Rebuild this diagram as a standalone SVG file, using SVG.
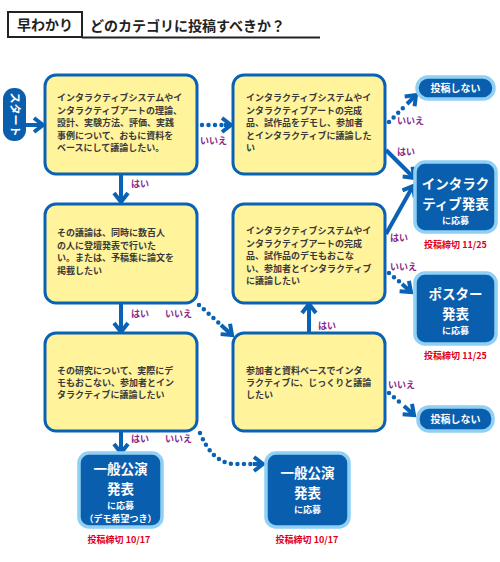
<svg xmlns="http://www.w3.org/2000/svg" width="500" height="562" viewBox="0 0 500 562">
<defs>
<style>
text{font-family:"Noto Sans CJK JP","Noto Sans",sans-serif;font-weight:bold}
.q{fill:#fff39c;stroke:#0a62b4;stroke-width:3}
.qt{font-size:9px;fill:#3a3a3a}
.r{fill:#0a5eae;stroke:#8fd0f3;stroke-width:3.5}
.rt{fill:#fff;text-anchor:middle}
.big{font-size:13.5px}
.sm{font-size:9px}
.dl{font-size:9px;fill:#e0001b;text-anchor:middle}
.lb{font-size:9px;fill:#8a2a8c}
.ln{fill:none;stroke:#0a62b4;stroke-width:4}
.dot{fill:none;stroke:#0a62b4;stroke-width:4.5;stroke-linecap:round;stroke-dasharray:0 6.5}
</style>
<marker id="ah" markerUnits="userSpaceOnUse" markerWidth="18" markerHeight="18" viewBox="0 0 18 18" refX="12" refY="9" orient="auto">
<path d="M3,2 L12,9 L3,16" fill="none" stroke="#0a62b4" stroke-width="4" stroke-linejoin="miter"/>
</marker>
</defs>
<rect width="500" height="562" fill="#fff"/>
<g id="title">
<rect x="8" y="12" width="74" height="25" fill="#fff" stroke="#222" stroke-width="2"/>
<text x="45" y="30" font-size="14" text-anchor="middle" fill="#222">早わかり</text>
<text x="90" y="31" font-size="14" fill="#222">どのカテゴリに投稿すべきか？</text>
<line x1="82" y1="37.5" x2="320" y2="37.5" stroke="#222" stroke-width="2"/>
</g>
<g id="connectors">
<line class="ln" x1="26" y1="125" x2="43" y2="125" marker-end="url(#ah)"/>
<line class="dot" x1="202" y1="125" x2="224" y2="125"/>
<line class="ln" x1="224" y1="125" x2="231" y2="125" marker-end="url(#ah)"/>
<line class="ln" x1="121" y1="175" x2="121" y2="202" marker-end="url(#ah)"/>
<line class="dot" x1="389" y1="122" x2="406" y2="105"/>
<line class="ln" x1="407" y1="104" x2="416" y2="95" marker-end="url(#ah)"/>
<line class="ln" x1="386" y1="150" x2="414" y2="178" marker-end="url(#ah)"/>
<line class="ln" x1="386" y1="234" x2="413" y2="186" marker-end="url(#ah)"/>
<line class="dot" x1="389" y1="273" x2="401" y2="283"/>
<line class="ln" x1="402" y1="284" x2="411" y2="292" marker-end="url(#ah)"/>
<line class="ln" x1="121" y1="304" x2="121" y2="332" marker-end="url(#ah)"/>
<line class="dot" x1="199" y1="305" x2="220" y2="324"/>
<line class="ln" x1="221" y1="325" x2="232" y2="335" marker-end="url(#ah)"/>
<line class="ln" x1="309" y1="332" x2="309" y2="304" marker-end="url(#ah)"/>
<line class="dot" x1="389" y1="393" x2="403" y2="405"/>
<line class="ln" x1="404" y1="406" x2="414" y2="415" marker-end="url(#ah)"/>
<line class="ln" x1="121" y1="432" x2="121" y2="453" marker-end="url(#ah)"/>
<path class="dot" d="M200,433 Q213,464 235,464 L253,464"/>
<line class="ln" x1="253" y1="464" x2="263" y2="464" marker-end="url(#ah)"/>
<text class="lb" x="200" y="144">いいえ</text>
<text class="lb" x="131" y="187">はい</text>
<text class="lb" x="397" y="124">いいえ</text>
<text class="lb" x="397" y="155">はい</text>
<text class="lb" x="390" y="241">はい</text>
<text class="lb" x="390" y="270">いいえ</text>
<text class="lb" x="131" y="317">はい</text>
<text class="lb" x="165" y="317">いいえ</text>
<text class="lb" x="318" y="329">はい</text>
<text class="lb" x="388" y="388">いいえ</text>
<text class="lb" x="131" y="442">はい</text>
<text class="lb" x="165" y="442">いいえ</text>
</g>
<g id="start">
<rect x="3" y="88" width="23" height="53" rx="11" fill="#0a5eae"/>
<text transform="translate(10.5,114.5) rotate(90)" font-size="11" fill="#fff" text-anchor="middle">スタート</text>
</g>
<g id="q1">
<rect class="q" x="45" y="75" width="152" height="99" rx="11"/>
<text class="qt" x="57" y="101">インタラクティブシステムやイ</text>
<text class="qt" x="57" y="113.5">ンタラクティブアートの理論、</text>
<text class="qt" x="57" y="126">設計、実験方法、評価、実践</text>
<text class="qt" x="57" y="138.5">事例について、おもに資料を</text>
<text class="qt" x="57" y="151">ベースにして議論したい。</text>
</g>
<g id="q2">
<rect class="q" x="233" y="75" width="152" height="99" rx="11"/>
<text class="qt" x="246" y="101">インタラクティブシステムやイ</text>
<text class="qt" x="246" y="113.5">ンタラクティブアートの完成</text>
<text class="qt" x="246" y="126">品、試作品をデモし、参加者</text>
<text class="qt" x="246" y="138.5">とインタラクティブに議論した</text>
<text class="qt" x="246" y="151">い</text>
</g>
<g id="q3">
<rect class="q" x="45" y="204" width="152" height="99" rx="11"/>
<text class="qt" x="57" y="236">その議論は、同時に数百人</text>
<text class="qt" x="57" y="248.5">の人に登壇発表で行いた</text>
<text class="qt" x="57" y="261">い。または、予稿集に論文を</text>
<text class="qt" x="57" y="273.5">掲載したい</text>
</g>
<g id="q4">
<rect class="q" x="233" y="204" width="152" height="99" rx="11"/>
<text class="qt" x="246" y="234">インタラクティブシステムやイ</text>
<text class="qt" x="246" y="246.5">ンタラクティブアートの完成</text>
<text class="qt" x="246" y="259">品、試作品のデモもおこな</text>
<text class="qt" x="246" y="271.5">い、参加者とインタラクティブ</text>
<text class="qt" x="246" y="284">に議論したい</text>
</g>
<g id="q5">
<rect class="q" x="45" y="333" width="152" height="98" rx="11"/>
<text class="qt" x="57" y="374">その研究について、実際にデ</text>
<text class="qt" x="57" y="386">モもおこない、参加者とイン</text>
<text class="qt" x="57" y="398">タラクティブに議論したい</text>
</g>
<g id="q6">
<rect class="q" x="233" y="333" width="152" height="98" rx="11"/>
<text class="qt" x="246" y="374">参加者と資料ベースでインタ</text>
<text class="qt" x="246" y="386">ラクティブに、じっくりと議論</text>
<text class="qt" x="246" y="398">したい</text>
</g>
<g id="noSubmit1">
<rect class="r" x="417" y="77" width="77" height="22" rx="11"/>
<text class="rt" x="455.5" y="92" font-size="10">投稿しない</text>
</g>
<g id="interactive">
<rect class="r" x="415" y="162" width="81" height="70" rx="10"/>
<text class="rt big" x="455.5" y="189">インタラク</text>
<text class="rt big" x="455.5" y="209">ティブ発表</text>
<text class="rt sm" x="455.5" y="224">に応募</text>
<text class="dl" x="455.5" y="248">投稿締切 11/25</text>
</g>
<g id="poster">
<rect class="r" x="415" y="273" width="81" height="71" rx="10"/>
<text class="rt big" x="455.5" y="299">ポスター</text>
<text class="rt big" x="455.5" y="319">発表</text>
<text class="rt sm" x="455.5" y="334">に応募</text>
<text class="dl" x="455.5" y="359">投稿締切 11/25</text>
</g>
<g id="noSubmit2">
<rect class="r" x="418" y="407" width="75" height="24" rx="11"/>
<text class="rt" x="455.5" y="423" font-size="10">投稿しない</text>
</g>
<g id="general1">
<rect class="r" x="79" y="453" width="83" height="74" rx="10"/>
<text class="rt big" x="120.5" y="474" font-size="14">一般公演</text>
<text class="rt big" x="120.5" y="494">発表</text>
<text class="rt sm" x="120.5" y="509">に応募</text>
<text class="rt sm" x="120.5" y="521.5">（デモ希望つき）</text>
<text class="dl" x="119" y="543">投稿締切 10/17</text>
</g>
<g id="general2">
<rect class="r" x="266" y="453" width="83" height="74" rx="10"/>
<text class="rt big" x="307.5" y="478" font-size="14">一般公演</text>
<text class="rt big" x="307.5" y="498">発表</text>
<text class="rt sm" x="307.5" y="513">に応募</text>
<text class="dl" x="307" y="543">投稿締切 10/17</text>
</g>
</svg>
